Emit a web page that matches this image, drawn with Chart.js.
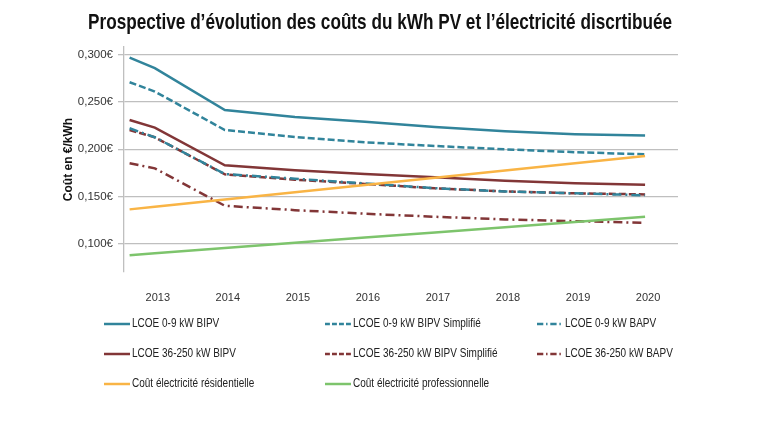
<!DOCTYPE html>
<html>
<head>
<meta charset="utf-8">
<script src="https://cdn.jsdelivr.net/npm/chart.js@4"></script>
<style>
  html, body { margin: 0; padding: 0; background: #fff; }
  #wrap { width: 779px; height: 431px; }
</style>
</head>
<body>
<div id="wrap"><canvas id="grafico"></canvas></div>
<script>
// x positions of the points (the first one sits just before 2013)
const annees = [2012.64, 2013, 2014, 2015, 2016, 2017, 2018, 2019, 2020];
const ticksX = [2013, 2014, 2015, 2016, 2017, 2018, 2019, 2020];
const ticksY = [0.10, 0.15, 0.20, 0.25, 0.30];

const lcoe09Bipv     = [0.2968, 0.2856, 0.2415, 0.2340, 0.2290, 0.2235, 0.2190, 0.2160, 0.2145];
const lcoe09Simpl    = [0.2708, 0.2610, 0.2204, 0.2130, 0.2074, 0.2035, 0.2000, 0.1970, 0.1947];
const lcoe09Bapv     = [0.2222, 0.2127, 0.1739, 0.1690, 0.1640, 0.1590, 0.1555, 0.1535, 0.1515];
const lcoe36Bipv     = [0.2310, 0.2229, 0.1831, 0.1780, 0.1739, 0.1704, 0.1668, 0.1641, 0.1626];
const lcoe36Simpl    = [0.2204, 0.2127, 0.1736, 0.1680, 0.1635, 0.1588, 0.1556, 0.1535, 0.1524];
const lcoe36Bapv     = [0.1852, 0.1799, 0.1404, 0.1358, 0.1320, 0.1288, 0.1260, 0.1242, 0.1224];
const coutResid      = [0.1366, 0.1394, 0.1470, 0.1547, 0.1624, 0.1700, 0.1777, 0.1854, 0.1930];
const coutPro        = [0.0883, 0.0903, 0.0958, 0.1013, 0.1068, 0.1123, 0.1178, 0.1233, 0.1288];

const titre = "Prospective d’évolution des coûts du kWh PV et l’électricité discrtibuée";

const TEAL = "#31849b";
const BRUN = "#823637";
const ORANGE = "#f9b445";
const VERT = "#7dc46c";
const POLICE = "'Liberation Sans', Arial, sans-serif";

function serie(label, valeurs, couleur, tirets, ordre) {
    return {
        label: label,
        data: valeurs.map((v, i) => ({ x: annees[i], y: v })),
        borderColor: couleur,
        backgroundColor: couleur,
        borderWidth: 2.5,
        borderDash: tirets,
        pointRadius: 0,
        tension: 0,
        fill: false,
        order: ordre
    };
}

const datasets = [
    serie("LCOE 0-9 kW BIPV", lcoe09Bipv, TEAL, [], 1),
    serie("LCOE 0-9 kW BIPV Simplifié", lcoe09Simpl, TEAL, [7, 3], 1),
    serie("LCOE 0-9 kW BAPV", lcoe09Bapv, TEAL, [9, 4, 2, 4], 1),
    serie("LCOE 36-250 kW BIPV", lcoe36Bipv, BRUN, [], 1),
    serie("LCOE 36-250 kW BIPV Simplifié", lcoe36Simpl, BRUN, [7, 3], 1),
    serie("LCOE 36-250 kW BAPV", lcoe36Bapv, BRUN, [9, 4, 2, 4], 1),
    serie("Coût électricité résidentielle", coutResid, ORANGE, [], 0),
    serie("Coût électricité professionnelle", coutPro, VERT, [], 0)
];

// legend laid out in 3 columns like the original
const legendeColonnes = [104, 325, 537];
const legendeLignes = [324, 354, 384];

// condensed title and legend text (the original uses narrow fonts)
const textePlugin = {
    id: "titreEtLegende",
    afterDraw(chart) {
        const ctx = chart.ctx;

        ctx.save();
        ctx.font = "bold 22px " + POLICE;
        const largeur = ctx.measureText(titre).width;
        ctx.translate(380, 23);
        ctx.scale(584 / largeur, 1);
        ctx.fillStyle = "#111";
        ctx.textAlign = "center";
        ctx.textBaseline = "middle";
        ctx.fillText(titre, 0, 0);
        ctx.restore();

        chart.data.datasets.forEach((ds, i) => {
            const x = legendeColonnes[i % 3];
            const y = legendeLignes[Math.floor(i / 3)];
            ctx.save();
            ctx.strokeStyle = ds.borderColor;
            ctx.lineWidth = 2.5;
            ctx.setLineDash(ds.borderDash.length ? ds.borderDash.map(d => d * 0.7) : []);
            ctx.beginPath();
            ctx.moveTo(x, y);
            ctx.lineTo(x + 26, y);
            ctx.stroke();
            ctx.setLineDash([]);
            ctx.fillStyle = "#222";
            ctx.font = "12.5px " + POLICE;
            ctx.textBaseline = "middle";
            ctx.translate(x + 28, y);
            ctx.scale(0.8, 1);
            ctx.fillText(ds.label, 0, 0);
            ctx.restore();
        });
    }
};

new Chart(document.getElementById("grafico"), {
    type: "line",
    data: { datasets: datasets },
    options: {
        responsive: true,
        maintainAspectRatio: false,
        animation: false,
        layout: { padding: { top: 47, left: 0, right: 101, bottom: 129 } },
        plugins: {
            legend: { display: false },
            tooltip: { enabled: false },
            title: { display: false }
        },
        scales: {
            x: {
                type: "linear",
                min: 2012.56,
                max: 2020.47,
                afterBuildTicks: axe => { axe.ticks = ticksX.map(v => ({ value: v })); },
                afterFit: axe => { axe.height = 30; },
                grid: { display: false, drawTicks: false },
                border: { display: false },
                ticks: {
                    color: "#333",
                    padding: 19,
                    labelOffset: 3,
                    font: { family: POLICE, size: 11 },
                    callback: v => String(v)
                }
            },
            y: {
                min: 0.0705,
                max: 0.308,
                afterBuildTicks: axe => { axe.ticks = ticksY.map(v => ({ value: v })); },
                afterFit: axe => { axe.width = 124; },
                grid: { color: "#bfbfbf", lineWidth: 1.3, tickLength: 6 },
                border: { color: "#bfbfbf", width: 1.3 },
                ticks: {
                    color: "#333",
                    padding: 5,
                    font: { family: POLICE, size: 11.5 },
                    callback: v => v.toFixed(3).replace(".", ",") + "€"
                },
                title: {
                    display: true,
                    text: "Coût en €/kWh",
                    color: "#111",
                    font: { family: POLICE, size: 12, weight: "bold" },
                    padding: { top: 61, bottom: 0 }
                }
            }
        }
    },
    plugins: [textePlugin]
});
</script>
</body>
</html>
